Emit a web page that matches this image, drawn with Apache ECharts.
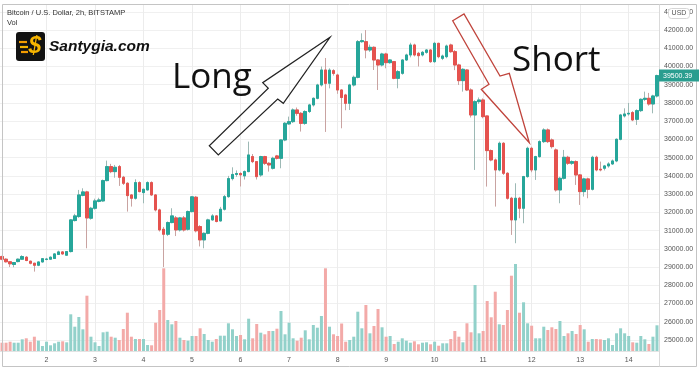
<!DOCTYPE html>
<html>
<head>
<meta charset="utf-8">
<script src="https://cdn.jsdelivr.net/npm/echarts/dist/echarts.min.js"></script>
<style>html,body{margin:0;padding:0;background:#fff}#c{width:700px;height:372px}</style>
</head>
<body>
<div id="c"></div>
<script>
// ---- data (2h candles, BTC/USD Bitstamp) ----
const startDay = 1;      // first candle: day 1, 02:00
const startHour = 2;
const dayLabels = ['2','3','4','5','6','7','8','9','10','11','12','13','14'];
const priceTicks = { min: 25000, max: 43000, step: 1000 };

const openP = [
29575,29430,29290,29140,29300,29430,29540,29320,29210,29100,
29280,29420,29430,29470,29690,29830,29650,29850,31550,31770,
32930,33120,31680,32225,32600,32627,33741,34508,34234,34508,
33924,33595,32955,32773,33631,33083,33230,33631,32955,32133,
31073,30800,31440,31695,31037,31695,31073,32042,32830,31220,
30490,30850,31585,31805,31530,32170,32860,33850,34080,34130,
34000,34235,35057,34782,34052,35057,34690,34417,35093,34965,
35970,36850,36975,37615,37430,36880,37530,37890,38254,38985,
39807,39080,39770,39533,38711,38437,37980,38985,39405,41360,
41360,40904,41050,40356,40082,40684,40210,40265,39350,39625,
40356,40630,41178,40721,40630,40776,40904,40264,41269,40447,
40538,41178,40812,40082,39223,39807,38711,37341,38071,38163,
37286,35386,34874,34326,35788,34143,32773,31585,32773,32225,
33961,35514,34326,35057,35879,36519,35970,35422,33230,33869,
35020,34692,34783,34052,33138,33833,33266,35020,34363,34418,
34545,34655,34819,36007,37286,37395,37469,37103,37578,38199,
38254,37944,38382];

const closeP = [
29430,29290,29180,29250,29430,29575,29360,29210,29100,29280,
29460,29440,29540,29720,29830,29720,29850,31585,31805,32955,
33120,31695,32225,32627,32680,33741,34508,34234,34470,33924,
33595,32919,32773,33631,33138,33266,33631,32955,32133,31037,
30800,31440,31805,31037,31695,31037,32042,32850,30990,30490,
30850,31585,31805,31500,32170,32860,33850,34080,34130,34060,
34235,35148,34782,33960,35057,34690,34600,34965,34965,35970,
36884,36975,37615,37430,36880,37530,37890,38254,38985,39807,
39076,39800,39620,38711,38300,37980,38985,39405,41360,41415,
40904,41050,40356,40082,40684,40210,40356,39350,39716,40356,
40630,41178,40630,40593,40776,40904,40264,41269,40538,40575,
41123,40812,40082,39223,39844,38711,37341,38071,38163,37249,
35386,34874,34326,35788,34143,32773,31585,32773,32225,33961,
35514,34326,35057,35879,36519,35879,35605,33230,33869,35020,
34692,34783,34052,33138,33833,33266,35020,34326,34326,34545,
34655,34819,36007,37341,37395,37432,37067,37578,38199,38254,
37944,38382,39500.39];

const lowP = [
29380,29250,29000,28990,29260,29400,29320,29150,28750,29050,
29250,29370,29400,29450,29660,29680,29620,29800,31500,31700,
32880,30030,31600,32150,32550,32580,33700,34150,33900,33450,
33500,32042,32316,32700,33100,32499,33200,32900,32050,30950,
29000,30700,31400,30700,30950,30950,31000,32000,30900,30130,
30030,30800,31550,31450,31500,32100,32800,33750,33950,33420,
33800,34200,34700,33800,33950,34600,34235,34350,34900,34417,
35900,36800,36900,37300,36430,36800,37450,37800,38200,38900,
36410,38800,39500,38500,36610,37600,37615,38900,39350,41300,
40447,40800,39807,38711,40000,39900,40150,39300,38803,39550,
40300,40500,40550,40000,40550,40700,40200,40200,40450,40350,
40450,40750,39800,38985,38620,38650,37200,34326,37950,37158,
33413,34800,32316,34250,34050,32700,30763,30307,31677,31403,
33900,34200,33778,35000,35800,35800,35500,33138,32499,33800,
34600,34600,33504,32408,32865,32773,33200,34250,34250,34300,
34450,34600,34750,35950,37200,37300,37000,36793,37500,38100,
37850,37432,38300];

const highP = [
29620,29480,29320,29270,29470,29650,29600,29350,29230,29300,
29490,29500,29580,29760,29900,29880,29880,31620,31920,33230,
33320,33180,32300,32750,32800,33800,34837,34660,34600,34600,
34000,33650,33000,33814,33700,33300,33700,33700,33000,32200,
31200,31500,32225,31800,31750,31800,32100,32900,32900,31300,
30900,31650,31900,31850,32300,32950,34000,34470,34300,34200,
34300,35880,35200,34800,35100,35100,34750,35050,35150,36000,
36950,37250,37700,37750,37500,37600,37950,38300,39050,40000,
40465,39900,39850,39600,38750,38500,39050,39500,41450,41817,
41996,41200,41100,40400,40750,40750,40400,40300,39800,40400,
40700,41300,41250,40800,40850,40950,40950,41350,41300,40650,
41200,41250,40900,40150,39900,39850,38800,38150,38300,38250,
37300,35450,34950,35879,35850,34200,32850,33595,32850,34000,
35600,35600,35100,35950,36610,36600,36050,35500,33950,35422,
35100,34850,34850,34100,33900,33900,35100,35100,34783,34600,
34750,34900,36050,37400,37706,38000,37550,37650,38250,38620,
38550,38450,39550];

const volume = [
8.3,8.3,9.3,8.3,8.3,11.7,12.7,9.3,14.3,10.3,
5,9.3,5.7,7.7,9.3,9.7,8.7,36.7,24.3,34,
21.7,55.3,14.3,8.7,5,18.7,19.3,14.3,13.3,11,
22,38.3,14.3,12,12,12,6,5.7,28.3,41,
82.7,31,26.7,30,13.3,11,10.3,15,15,22.7,
17,11,9.3,12,15.3,15.3,27.7,21.7,15,16,
11.7,32.3,12.7,27,18.3,16.7,20,20,22.3,40,
16.7,28.3,12.7,10.3,13.3,20.7,11.7,26,23.3,35,
82.7,24.3,16.7,15,27.5,9.3,11,14.3,39.3,22.7,
46,17.7,25,42,23.7,14.3,15,7,9.3,12.7,
10.3,8.3,9.7,6.7,8.3,8.7,6.7,9.3,5.3,7.7,
7.7,12,20,14.3,8.7,27.7,18.7,66,17.7,20,
50,33.7,59.3,26.7,26,41,75.3,87,38.3,48.7,
27.7,25.3,12.7,12.7,24.3,21,23.7,22,30,15,
17.7,20,17,26,21.7,9.3,12,12,11.7,11,
12.7,6,17.7,22.7,17.7,15,8.7,8.3,15,11.7,
7,14.3,25.7];

// ---- styles ----
const UP = '#26a69a', DOWN = '#e5524e';
const UP_WICK = '#9db9b5', DOWN_WICK = '#c9a3a1';
const UP_VOL = '#92d1ca', DOWN_VOL = '#f3aaa8';
const FONT = 'Liberation Sans, Arial, sans-serif';

// ---- derived ----
const N = openP.length;
const cats = [];
const labelAt = {};
let k = 0;
for (let i = 0; i < N; i++) {
  const t = startHour + 2 * i;
  const day = startDay + Math.floor(t / 24);
  const hh = t % 24;
  cats.push(day + ' ' + String(hh).padStart(2, '0') + ':00');
  if (hh === 0) labelAt[i] = dayLabels[k++];
}
const wickData = [], bodyData = [], volData = [];
for (let i = 0; i < N; i++) {
  wickData.push([openP[i], closeP[i], lowP[i], highP[i]]);
  bodyData.push([openP[i], closeP[i], Math.min(openP[i], closeP[i]), Math.max(openP[i], closeP[i])]);
  volData.push({ value: volume[i], itemStyle: { color: closeP[i] >= openP[i] ? UP_VOL : DOWN_VOL } });
}
const dayLines = Object.keys(labelAt).map(i => ({ xAxis: cats[+i] }));

const chart = echarts.init(document.getElementById('c'), null, { renderer: 'canvas' });

const option = {
  animation: false,
  backgroundColor: '#ffffff',
  grid: [
    { left: 0, right: 41, top: 11.765, bottom: 32, outerBoundsMode: 'none', containLabel: false },
    { left: 0, right: 41, top: 4, bottom: 21, outerBoundsMode: 'none', containLabel: false }
  ],
  xAxis: [
    { type: 'category', gridIndex: 0, data: cats, boundaryGap: true, show: false },
    { type: 'category', gridIndex: 1, data: cats, boundaryGap: true,
      axisLine: { show: true, lineStyle: { color: '#e3e3e3', width: 1 } },
      axisTick: { show: false },
      splitLine: { show: false },
      axisLabel: {
        interval: (idx) => labelAt[idx] !== undefined,
        formatter: (val, idx) => labelAt[idx] || '',
        fontSize: 7, color: '#555', fontFamily: FONT, margin: 6
      }
    }
  ],
  yAxis: [
    { type: 'value', gridIndex: 0, position: 'right', scale: false,
      min: priceTicks.min, max: priceTicks.max, interval: priceTicks.step,
      axisLine: { show: false }, axisTick: { show: false },
      axisLabel: { fontSize: 7, color: '#555', fontFamily: FONT, margin: 5,
        formatter: v => v.toFixed(2) },
      splitLine: { show: true, lineStyle: { color: '#f0f0f0', width: 1 } }
    },
    { type: 'value', gridIndex: 1, min: 0, max: 347, show: false, splitLine: { show: false } }
  ],
  series: [
    { type: 'bar', name: 'Vol', xAxisIndex: 1, yAxisIndex: 1, data: volData, barWidth: 3, z: 2,
      silent: true,
      markLine: { silent: true, symbol: ['none', 'none'], z: 1,
        label: { show: false },
        lineStyle: { color: '#ececec', width: 1, type: 'solid' },
        emphasis: { disabled: true },
        data: dayLines }
    },
    { type: 'candlestick', name: 'wick', xAxisIndex: 0, yAxisIndex: 0, data: wickData, barWidth: 3, z: 3,
      silent: true,
      itemStyle: { color: UP_WICK, color0: DOWN_WICK, borderColor: UP_WICK, borderColor0: DOWN_WICK, borderWidth: 1 } },
    { type: 'candlestick', name: 'body', xAxisIndex: 0, yAxisIndex: 0, data: bodyData, barWidth: 3, z: 4,
      silent: true,
      itemStyle: { color: UP, color0: DOWN, borderColor: UP, borderColor0: DOWN, borderWidth: 1 } }
  ],
  graphic: [
    { type: 'rect', z: 50, silent: true, shape: { x: 2.5, y: 4.5, width: 694, height: 362 },
      style: { fill: 'none', stroke: '#c4c4c4', lineWidth: 1 } },
    { type: 'line', z: 50, silent: true, shape: { x1: 659.5, y1: 4.5, x2: 659.5, y2: 366.5 },
      style: { stroke: '#dadada', lineWidth: 1 } },
    { type: 'text', z: 50, x: 7, y: 13, style: { text: 'Bitcoin / U.S. Dollar, 2h, BITSTAMP',
      fontSize: 7.5, fontFamily: FONT, fill: '#333', verticalAlign: 'middle' } },
    { type: 'text', z: 50, x: 7, y: 23, style: { text: 'Vol', fontSize: 7.5, fontFamily: FONT, fill: '#333', verticalAlign: 'middle' } },
    // logo
    { type: 'rect', z: 50, shape: { x: 16, y: 32, width: 29, height: 29, r: 3 }, style: { fill: '#121212' } },
    { type: 'polyline', z: 51, shape: { points: [[19, 42], [27, 42]] }, style: { stroke: '#f39c00', lineWidth: 2.2 } },
    { type: 'polyline', z: 51, shape: { points: [[20, 47], [28, 47]] }, style: { stroke: '#f6b300', lineWidth: 2.2 } },
    { type: 'polyline', z: 51, shape: { points: [[21, 52], [28, 52]] }, style: { stroke: '#f39c00', lineWidth: 2.2 } },
    { type: 'text', z: 52, x: 35, y: 47, style: { text: '$', fontSize: 23, fontWeight: 'bold', fontStyle: 'italic',
      fontFamily: FONT, fill: '#f7b500', align: 'center', verticalAlign: 'middle' } },
    { type: 'text', z: 50, x: 49, y: 47, style: { text: 'Santygia.com', fontSize: 15.5, fontWeight: 'bold', fontStyle: 'italic',
      fontFamily: FONT, fill: '#111', verticalAlign: 'middle' } },
    // annotations
    { type: 'text', z: 60, x: 172, y: 78, style: { text: 'Long', fontSize: 35, fontFamily: 'Open Sans, Noto Sans, sans-serif',
      fill: '#111', verticalAlign: 'middle' } },
    { type: 'text', z: 60, x: 512, y: 61, style: { text: 'Short', fontSize: 35, fontFamily: 'Open Sans, Noto Sans, sans-serif',
      fill: '#111', verticalAlign: 'middle' } },
    { type: 'polygon', z: 60, shape: { points: [[330, 37.3], [262.7, 82.7], [268.3, 88.3], [209.3, 145.7], [218.3, 155], [277.7, 99], [283.3, 103.3]] },
      style: { fill: 'none', stroke: '#222', lineWidth: 1.2 } },
    { type: 'polygon', z: 60, shape: { points: [[452.7, 20.7], [464, 14], [500, 76], [509.3, 73.3], [529.3, 142.7], [481.3, 89.3], [489, 84.3]] },
      style: { fill: 'none', stroke: '#c0443c', lineWidth: 1.3 } },
    // USD box over top label
    { type: 'rect', z: 60, shape: { x: 668.5, y: 8.5, width: 21, height: 10, r: 3 }, style: { fill: '#fff', stroke: '#d6d6d6', lineWidth: 1 } },
    { type: 'text', z: 61, x: 679, y: 13.5, style: { text: 'USD', fontSize: 7, fontFamily: FONT, fill: '#555', align: 'center', verticalAlign: 'middle' } }
  ]
};
chart.setOption(option);

// last-price label on the price axis
const lastClose = closeP[N - 1];
const yLast = chart.convertToPixel({ yAxisIndex: 0 }, lastClose);
chart.setOption({ graphic: [
  { id: 'lastBox', type: 'rect', z: 62, shape: { x: 659, y: yLast - 6, width: 40, height: 12 }, style: { fill: '#2a9d8f' } },
  { id: 'lastTxt', type: 'text', z: 63, x: 663, y: yLast, style: { text: lastClose.toFixed(2), fontSize: 7, fontFamily: FONT,
    fill: '#fff', verticalAlign: 'middle' } }
] });
</script>
</body>
</html>
